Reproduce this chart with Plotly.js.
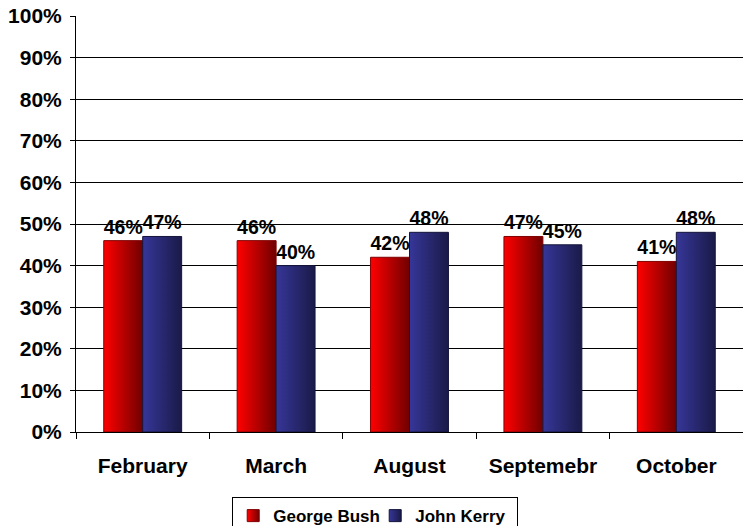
<!DOCTYPE html>
<html><head><meta charset="utf-8">
<script src="https://cdn.plot.ly/plotly-3.0.1.min.js"></script>
<style>body{margin:0;background:#fff}#chart{width:743px;height:526px}</style>
</head><body><div id="chart"></div>
<script>
var months = ["February", "March", "August", "Septemebr", "October"];
var bush = [0.46, 0.46, 0.42, 0.47, 0.41];
var kerry = [0.47, 0.40, 0.48, 0.45, 0.48];
var seriesNames = ["George Bush", "John Kerry"];
var yTicks = [0, 0.1, 0.2, 0.3, 0.4, 0.5, 0.6, 0.7, 0.8, 0.9, 1.0];

var fam = "Liberation Sans, Arial, sans-serif";
function bold(sz){ return {family: fam, size: sz, color: "#000", weight: "bold"}; }
function pct(v){ return Math.round(v*100) + "%"; }

var traces = [
  {type: "bar", name: seriesNames[0], x: months, y: bush, text: bush.map(pct),
   textposition: "outside", cliponaxis: false, constraintext: "none", textfont: bold(19.5),
   marker: {color: "#e00000", line: {color: "#800000", width: 1}}},
  {type: "bar", name: seriesNames[1], x: months, y: kerry, text: kerry.map(pct),
   textposition: "outside", cliponaxis: false, constraintext: "none", textfont: bold(19.5),
   marker: {color: "#2a2a80", line: {color: "#14143c", width: 1}}}
];

var layout = {
  width: 743, height: 526,
  margin: {l: 76, r: 0, t: 16, b: 94},
  paper_bgcolor: "#fff", plot_bgcolor: "#fff",
  font: bold(20),
  barmode: "group", bargap: 0.416, bargroupgap: 0,
  showlegend: true,
  legend: {orientation: "h", x: 0.505, xref: "container", xanchor: "center", y: 0.055, yref: "container", yanchor: "top",
    bordercolor: "#000", borderwidth: 1, font: bold(17),
    itemwidth: 30, tracegroupgap: 0, entrywidth: 97, entrywidthmode: "pixels"},
  xaxis: {type: "category", showline: true, linecolor: "#000", linewidth: 1, automargin: false,
    ticks: "outside", tickson: "boundaries", ticklen: 6, tickcolor: "#000", ticklabelstandoff: 15,
    tickfont: bold(21), showgrid: false},
  yaxis: {range: [0, 1], tickvals: yTicks, ticktext: yTicks.map(pct), automargin: false,
    showline: true, linecolor: "#000", linewidth: 1, ticks: "outside", ticklen: 5, tickcolor: "#000",
    ticklabelstandoff: 4,
    showgrid: true, gridcolor: "#000", gridwidth: 1, zeroline: false,
    tickfont: bold(21)}
};

Plotly.newPlot("chart", traces, layout, {staticPlot: true}).then(function(gd){
  var svg = gd.querySelector("svg.main-svg");
  var ns = "http://www.w3.org/2000/svg";
  var defs = svg.querySelector("defs") || svg.insertBefore(document.createElementNS(ns, "defs"), svg.firstChild);
  function grad(id, c1, c2){
    var g = document.createElementNS(ns, "linearGradient");
    g.setAttribute("id", id); g.setAttribute("x1", "0"); g.setAttribute("x2", "1"); g.setAttribute("y1", "0"); g.setAttribute("y2", "0");
    [[0, c1], [1, c2]].forEach(function(s){
      var st = document.createElementNS(ns, "stop");
      st.setAttribute("offset", s[0]); st.setAttribute("stop-color", s[1]); g.appendChild(st);
    });
    defs.appendChild(g);
  }
  grad("gRed", "#ff0000", "#700000");
  grad("gBlue", "#363699", "#1a1a48");
  var groups = gd.querySelectorAll(".barlayer .trace");
  var ids = ["gRed", "gBlue"];
  groups.forEach(function(t, i){
    t.querySelectorAll(".point path").forEach(function(p){ p.style.fill = "url(#" + ids[i] + ")"; });
  });
  var leg = gd.querySelectorAll(".legend .traces .legendpoints path");
  leg.forEach(function(p, i){ p.style.fill = "url(#" + ids[i] + ")"; });
});
</script></body></html>
